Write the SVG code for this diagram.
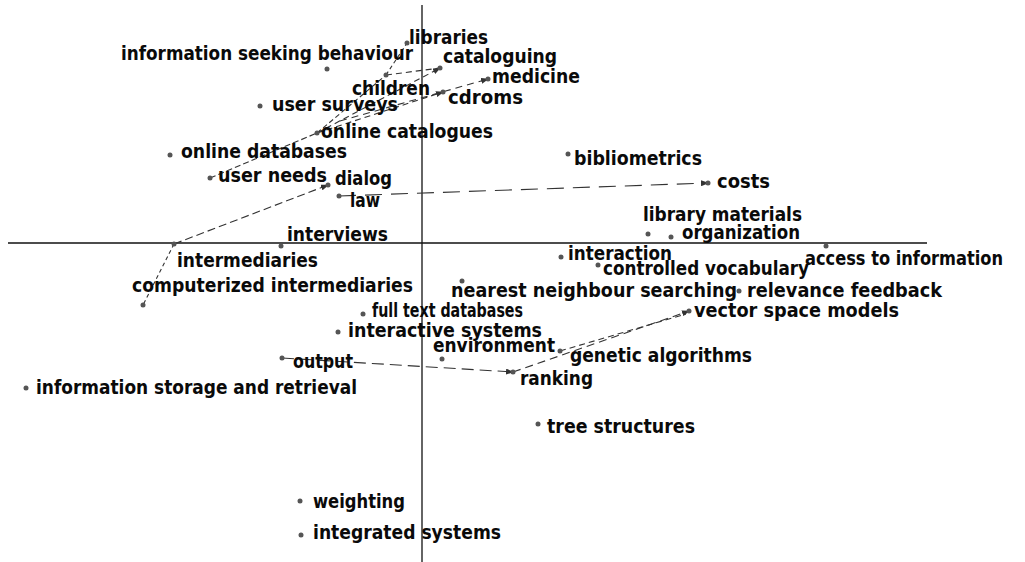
<svg xmlns="http://www.w3.org/2000/svg" width="1025" height="562" viewBox="0 0 1025 562">
  <style>
    .axis { stroke: #111; stroke-width: 1.3; }
    .lbl { font-family: 'DejaVu Sans Condensed', 'DejaVu Sans', sans-serif; font-stretch: condensed; font-weight: bold; font-size: 19.5px; fill: #0a0a0a; }
    .dot { fill: #555; }
    .link { stroke: #333; stroke-width: 1.1; fill: none; }
  </style>
  <defs>
    <marker id="arrow" markerUnits="userSpaceOnUse" markerWidth="8" markerHeight="6" refX="7" refY="3" orient="auto">
      <path d="M0,0 L8,3 L0,6 z" fill="#333"/>
    </marker>
  </defs>
  <rect width="1025" height="562" fill="#fff"/>

  <!-- axes -->
  <g id="axes">
    <line class="axis" x1="8" y1="243" x2="927" y2="243"/>
    <line class="axis" x1="422" y1="5" x2="422" y2="562"/>
  </g>

  <!-- connectors -->
  <g id="connectors">
    <line class="link" x1="339" y1="196" x2="708" y2="183" stroke-dasharray="17 9" marker-end="url(#arrow)"/>
    <line class="link" x1="282" y1="358" x2="513" y2="372" stroke-dasharray="12 6" marker-end="url(#arrow)"/>
    <line class="link" x1="174" y1="244" x2="328" y2="185" stroke-dasharray="8 4" marker-end="url(#arrow)"/>
    <line class="link" x1="174" y1="244" x2="143" y2="305" stroke-dasharray="4 3"/>
    <line class="link" x1="210" y1="178" x2="317" y2="133" stroke-dasharray="6 3"/>
    <line class="link" x1="513" y1="372" x2="689" y2="311" stroke-dasharray="8 5" marker-end="url(#arrow)"/>
    <line class="link" x1="560" y1="351" x2="686" y2="314" stroke-dasharray="6 4"/>
    <line class="link" x1="317" y1="133" x2="440" y2="68" stroke-dasharray="6 4" marker-end="url(#arrow)"/>
    <line class="link" x1="317" y1="133" x2="443" y2="92" stroke-dasharray="6 4" marker-end="url(#arrow)"/>
    <line class="link" x1="340" y1="121" x2="488" y2="79" stroke-dasharray="7 5" marker-end="url(#arrow)"/>
    <line class="link" x1="317" y1="133" x2="386" y2="75" stroke-dasharray="5 3"/>
    <line class="link" x1="386" y1="75" x2="407" y2="43" stroke-dasharray="4 3"/>
    <line class="link" x1="386" y1="75" x2="440" y2="68" stroke-dasharray="6 4"/>
  </g>

  <!-- nodes -->
  <g id="n-libraries"><circle class="dot" cx="407" cy="43" r="2.5"/><text class="lbl" x="409" y="44" textLength="79" lengthAdjust="spacingAndGlyphs">libraries</text></g>
  <g id="n-info-seeking"><circle class="dot" cx="327" cy="69" r="2.5"/><text class="lbl" x="121" y="60" textLength="292" lengthAdjust="spacingAndGlyphs">information seeking behaviour</text></g>
  <g id="n-cataloguing"><circle class="dot" cx="440" cy="68" r="2.5"/><text class="lbl" x="443" y="63" textLength="114" lengthAdjust="spacingAndGlyphs">cataloguing</text></g>
  <g id="n-medicine"><circle class="dot" cx="488" cy="79" r="2.5"/><text class="lbl" x="492" y="83" textLength="88" lengthAdjust="spacingAndGlyphs">medicine</text></g>
  <g id="n-children"><circle class="dot" cx="386" cy="75" r="2.5"/><text class="lbl" x="352" y="95" textLength="78" lengthAdjust="spacingAndGlyphs">children</text></g>
  <g id="n-cdroms"><circle class="dot" cx="443" cy="92" r="2.5"/><text class="lbl" x="448" y="104" textLength="75" lengthAdjust="spacingAndGlyphs">cdroms</text></g>
  <g id="n-user-surveys"><circle class="dot" cx="260" cy="106" r="2.5"/><text class="lbl" x="272" y="111" textLength="126" lengthAdjust="spacingAndGlyphs">user surveys</text></g>
  <g id="n-online-catalogues"><circle class="dot" cx="317" cy="133" r="2.5"/><text class="lbl" x="321" y="138" textLength="172" lengthAdjust="spacingAndGlyphs">online catalogues</text></g>
  <g id="n-online-databases"><circle class="dot" cx="170" cy="155" r="2.5"/><text class="lbl" x="181" y="158" textLength="166" lengthAdjust="spacingAndGlyphs">online databases</text></g>
  <g id="n-bibliometrics"><circle class="dot" cx="568" cy="154" r="2.5"/><text class="lbl" x="574" y="165" textLength="128" lengthAdjust="spacingAndGlyphs">bibliometrics</text></g>
  <g id="n-user-needs"><circle class="dot" cx="210" cy="178" r="2.5"/><text class="lbl" x="218" y="182" textLength="109" lengthAdjust="spacingAndGlyphs">user needs</text></g>
  <g id="n-dialog"><circle class="dot" cx="328" cy="185" r="2.5"/><text class="lbl" x="335" y="185" textLength="57" lengthAdjust="spacingAndGlyphs">dialog</text></g>
  <g id="n-law"><circle class="dot" cx="339" cy="196" r="2.5"/><text class="lbl" x="350" y="207" textLength="30" lengthAdjust="spacingAndGlyphs">law</text></g>
  <g id="n-costs"><circle class="dot" cx="708" cy="183" r="2.5"/><text class="lbl" x="717" y="188" textLength="53" lengthAdjust="spacingAndGlyphs">costs</text></g>
  <g id="n-library-materials"><circle class="dot" cx="648" cy="234" r="2.5"/><text class="lbl" x="643" y="221" textLength="159" lengthAdjust="spacingAndGlyphs">library materials</text></g>
  <g id="n-organization"><circle class="dot" cx="671" cy="237" r="2.5"/><text class="lbl" x="682" y="239" textLength="118" lengthAdjust="spacingAndGlyphs">organization</text></g>
  <g id="n-interviews"><circle class="dot" cx="281" cy="246" r="2.5"/><text class="lbl" x="287" y="241" textLength="101" lengthAdjust="spacingAndGlyphs">interviews</text></g>
  <g id="n-intermediaries"><circle class="dot" cx="174" cy="244" r="2.5"/><text class="lbl" x="177" y="267" textLength="141" lengthAdjust="spacingAndGlyphs">intermediaries</text></g>
  <g id="n-interaction"><circle class="dot" cx="561" cy="257" r="2.5"/><text class="lbl" x="568" y="260" textLength="104" lengthAdjust="spacingAndGlyphs">interaction</text></g>
  <g id="n-access"><circle class="dot" cx="826" cy="246" r="2.5"/><text class="lbl" x="805" y="265" textLength="198" lengthAdjust="spacingAndGlyphs">access to information</text></g>
  <g id="n-controlled-vocabulary"><circle class="dot" cx="598" cy="265" r="2.5"/><text class="lbl" x="603" y="275" textLength="206" lengthAdjust="spacingAndGlyphs">controlled vocabulary</text></g>
  <g id="n-computerized-intermediaries"><circle class="dot" cx="143" cy="305" r="2.5"/><text class="lbl" x="132" y="292" textLength="281" lengthAdjust="spacingAndGlyphs">computerized intermediaries</text></g>
  <g id="n-nearest-neighbour"><circle class="dot" cx="462" cy="281" r="2.5"/><text class="lbl" x="451" y="297" textLength="286" lengthAdjust="spacingAndGlyphs">nearest neighbour searching</text></g>
  <g id="n-relevance-feedback"><circle class="dot" cx="739" cy="291" r="2.5"/><text class="lbl" x="747" y="297" textLength="195" lengthAdjust="spacingAndGlyphs">relevance feedback</text></g>
  <g id="n-full-text"><circle class="dot" cx="363" cy="314" r="2.5"/><text class="lbl" x="372" y="317" textLength="151" lengthAdjust="spacingAndGlyphs">full text databases</text></g>
  <g id="n-vector-space"><circle class="dot" cx="689" cy="311" r="2.5"/><text class="lbl" x="694" y="317" textLength="205" lengthAdjust="spacingAndGlyphs">vector space models</text></g>
  <g id="n-interactive-systems"><circle class="dot" cx="338" cy="332" r="2.5"/><text class="lbl" x="348" y="337" textLength="194" lengthAdjust="spacingAndGlyphs">interactive systems</text></g>
  <g id="n-environment"><circle class="dot" cx="442" cy="359" r="2.5"/><text class="lbl" x="433" y="352" textLength="122" lengthAdjust="spacingAndGlyphs">environment</text></g>
  <g id="n-genetic-algorithms"><circle class="dot" cx="560" cy="351" r="2.5"/><text class="lbl" x="570" y="362" textLength="182" lengthAdjust="spacingAndGlyphs">genetic algorithms</text></g>
  <g id="n-output"><circle class="dot" cx="282" cy="358" r="2.5"/><text class="lbl" x="293" y="368" textLength="60" lengthAdjust="spacingAndGlyphs">output</text></g>
  <g id="n-ranking"><circle class="dot" cx="513" cy="372" r="2.5"/><text class="lbl" x="520" y="385" textLength="73" lengthAdjust="spacingAndGlyphs">ranking</text></g>
  <g id="n-info-storage"><circle class="dot" cx="26" cy="388" r="2.5"/><text class="lbl" x="36" y="394" textLength="321" lengthAdjust="spacingAndGlyphs">information storage and retrieval</text></g>
  <g id="n-tree-structures"><circle class="dot" cx="538" cy="424" r="2.5"/><text class="lbl" x="547" y="433" textLength="148" lengthAdjust="spacingAndGlyphs">tree structures</text></g>
  <g id="n-weighting"><circle class="dot" cx="300" cy="501" r="2.5"/><text class="lbl" x="313" y="508" textLength="92" lengthAdjust="spacingAndGlyphs">weighting</text></g>
  <g id="n-integrated-systems"><circle class="dot" cx="301" cy="535" r="2.5"/><text class="lbl" x="313" y="539" textLength="188" lengthAdjust="spacingAndGlyphs">integrated systems</text></g>
</svg>
